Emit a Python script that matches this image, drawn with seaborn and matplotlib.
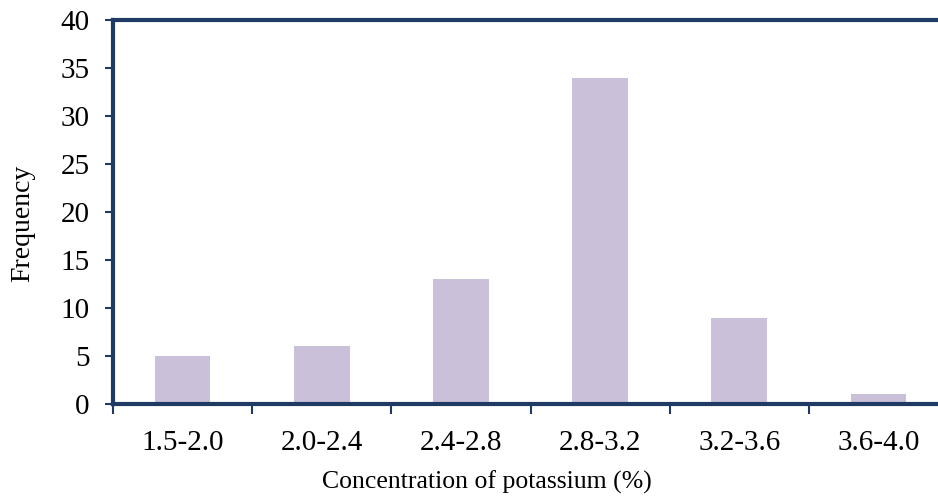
import seaborn as sns
import pandas as pd
import matplotlib.pyplot as plt

# data
ranges = ["1.5-2.0", "2.0-2.4", "2.4-2.8", "2.8-3.2", "3.2-3.6", "3.6-4.0"]
frequency = [5, 6, 13, 34, 9, 1]

navy = "#1F3A63"
bar_color = "#CAC0DA"

sns.set_style("white")
plt.rcParams["font.family"] = ["Liberation Serif", "DejaVu Serif"]

df = pd.DataFrame({"range": ranges, "freq": frequency})

fig = plt.figure(figsize=(9.38, 5), dpi=100)
# axes runs slightly past the right edge, as in the reference
ax = fig.add_axes([113 / 938, 96 / 500, 835 / 938, 384 / 500])

sns.barplot(data=df, x="range", y="freq", color=bar_color, width=0.4,
            saturation=1, ax=ax, edgecolor="none")

ax.set_xlim(-0.5, len(ranges) - 0.5)
ax.set_ylim(0, 40)
ax.set_yticks(range(0, 41, 5))
ax.set_xticks(range(len(ranges)))
ax.set_xticklabels(ranges)
ax.set_xticks([i - 0.5 for i in range(len(ranges) + 1)], minor=True)

ax.tick_params(axis="y", which="major", direction="out", length=6, width=1.5,
               color=navy, labelsize=21, pad=11, left=True, labelcolor="black")
ax.tick_params(axis="x", which="major", length=0, labelsize=21, pad=19,
               labelcolor="black")
ax.tick_params(axis="x", which="minor", direction="out", length=7, width=1.5,
               color=navy, bottom=True)

for side in ["left", "top", "bottom"]:
    ax.spines[side].set_visible(True)
    ax.spines[side].set_color(navy)
    ax.spines[side].set_linewidth(3)
ax.spines["right"].set_visible(False)

ax.set_xlabel("Concentration of potassium (%)", fontsize=18.5, color="black")
ax.set_ylabel("Frequency", fontsize=20, color="black")
# titles sit off-centre in the reference
ax.xaxis.set_label_coords(0.448, -0.174)
ax.yaxis.set_label_coords(-0.093, 0.47)

fig.savefig("out.png", dpi=100)
